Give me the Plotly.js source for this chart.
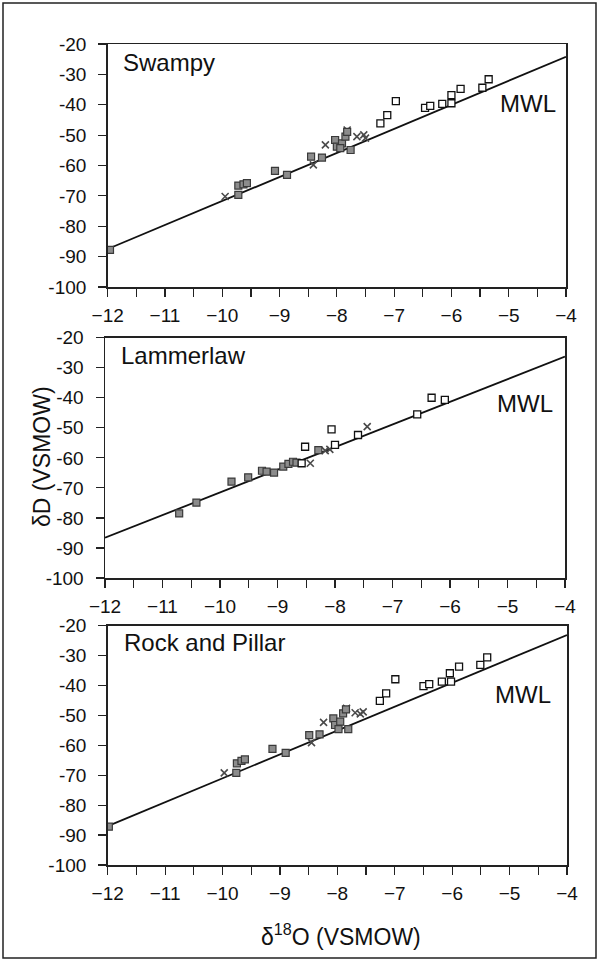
<!DOCTYPE html>
<html>
<head>
<meta charset="utf-8">
<script src="https://cdn.plot.ly/plotly-3.0.1.min.js"></script>
<style>
  html, body { margin: 0; padding: 0; background: #fff; }
  #chart { width: 599px; height: 961px; }
</style>
</head>
<body>
<div id="chart"></div>
<script>
// ---------- data ----------
const panelNames = ["Swampy", "Lammerlaw", "Rock and Pillar"];
const xTickVals = [-12, -11, -10, -9, -8, -7, -6, -5, -4];
const yTickVals = [-20, -30, -40, -50, -60, -70, -80, -90, -100];
const yTickText = ["-20", "-30", "-40", "-50", "-60", "-70", "-80", "-90", "-100"];

// Meteoric water line (end points, per panel)
const mwlX = [-12, -4];
const mwlY1 = [-87.5, -24.2];
const mwlY2 = [-86.6, -26.3];
const mwlY3 = [-87.0, -23.1];

// Swampy
const swGrayX = [-11.96, -9.72, -9.72, -9.63, -9.57, -9.08, -8.87, -8.45, -8.26, -8.03, -8.00, -7.91, -7.85, -7.82, -7.94, -7.76];
const swGrayY = [-87.8, -69.7, -66.6, -66.2, -65.8, -61.8, -63.1, -57.1, -57.4, -51.6, -53.8, -52.7, -50.5, -48.9, -54.3, -54.9];
const swOpenX = [-7.24, -7.12, -6.97, -6.46, -6.37, -6.16, -6.00, -6.00, -5.84, -5.46, -5.35];
const swOpenY = [-46.1, -43.4, -38.8, -41.0, -40.4, -39.7, -39.5, -36.8, -34.8, -34.4, -31.6];
const swCrossX = [-9.95, -8.41, -8.20, -7.82, -7.65, -7.53, -7.50];
const swCrossY = [-70.2, -59.8, -53.2, -48.3, -50.5, -49.9, -51.0];

// Lammerlaw
const laGrayX = [-10.71, -10.41, -9.80, -9.51, -9.27, -9.19, -9.06, -8.90, -8.81, -8.73, -8.67, -8.29];
const laGrayY = [-78.5, -74.9, -67.9, -66.5, -64.3, -64.6, -64.9, -62.9, -62.0, -61.3, -61.6, -57.4];
const laOpenX = [-8.58, -8.52, -8.06, -8.00, -7.60, -6.57, -6.32, -6.09];
const laOpenY = [-61.8, -56.3, -50.5, -55.7, -52.4, -45.5, -40.0, -40.7];
const laCrossX = [-8.43, -8.17, -8.09, -7.44];
const laCrossY = [-61.8, -57.6, -57.2, -49.6];

// Rock and Pillar
const rpGrayX = [-11.98, -9.76, -9.75, -9.67, -9.61, -9.13, -8.90, -8.49, -8.31, -8.07, -8.04, -7.95, -7.90, -7.85, -7.98, -7.81];
const rpGrayY = [-87.2, -69.2, -66.0, -65.2, -64.7, -61.2, -62.5, -56.6, -56.3, -51.0, -53.2, -52.1, -49.3, -48.0, -54.6, -54.6];
const rpOpenX = [-7.26, -7.15, -6.99, -6.50, -6.40, -6.18, -6.02, -6.04, -5.88, -5.51, -5.39];
const rpOpenY = [-45.1, -42.6, -37.9, -40.2, -39.5, -38.7, -38.7, -35.9, -33.7, -33.1, -30.6];
const rpCrossX = [-9.97, -8.45, -8.24, -7.84, -7.69, -7.60, -7.55];
const rpCrossY = [-69.2, -59.1, -52.3, -47.6, -49.1, -49.5, -48.8];

// ---------- build ----------
const panels = [
  {mwlY: mwlY1, gx: swGrayX, gy: swGrayY, ox: swOpenX, oy: swOpenY, cx: swCrossX, cy: swCrossY},
  {mwlY: mwlY2, gx: laGrayX, gy: laGrayY, ox: laOpenX, oy: laOpenY, cx: laCrossX, cy: laCrossY},
  {mwlY: mwlY3, gx: rpGrayX, gy: rpGrayY, ox: rpOpenX, oy: rpOpenY, cx: rpCrossX, cy: rpCrossY}
];

const FONT = "Liberation Sans, Arial, Helvetica, sans-serif";
const traces = [];
panels.forEach((p, i) => {
  const xa = i === 0 ? "x" : "x" + (i + 1);
  const ya = i === 0 ? "y" : "y" + (i + 1);
  traces.push({x: mwlX, y: p.mwlY, xaxis: xa, yaxis: ya, mode: "lines",
    line: {color: "#111", width: 1.8}, hoverinfo: "skip"});
  traces.push({x: p.cx, y: p.cy, xaxis: xa, yaxis: ya, mode: "markers",
    marker: {symbol: "x-thin-open", size: 7, color: "#4a4a4a", line: {color: "#4a4a4a", width: 1.6}}});
  traces.push({x: p.gx, y: p.gy, xaxis: xa, yaxis: ya, mode: "markers",
    marker: {symbol: "square", size: 7, color: "#8c8c8c", line: {color: "#3a3a3a", width: 1.2}}});
  traces.push({x: p.ox, y: p.oy, xaxis: xa, yaxis: ya, mode: "markers",
    marker: {symbol: "square", size: 7, color: "#ffffff", line: {color: "#111", width: 1.3}}});
});

// plot geometry (pixels of the 599x961 page)
const W = 599, H = 961, ML = 105, MR = 32;
const PW = W - ML - MR;
const fx = px => (px - ML) / PW;
const fy = py => 1 - py / H;
const boxes = [
  {l: 107.7, r: 566, t: 44, b: 287},
  {l: 105, r: 565, t: 337.7, b: 578},
  {l: 107.7, r: 567, t: 625.7, b: 865}
];

const layout = {
  width: W, height: H,
  margin: {l: ML, r: MR, t: 0, b: 0, pad: 0},
  paper_bgcolor: "#fff", plot_bgcolor: "#fff",
  showlegend: false,
  font: {family: FONT, color: "#111", size: 19},
  annotations: [],
  shapes: [{type: "rect", xref: "paper", yref: "paper",
    x0: fx(3), x1: fx(596), y0: fy(958), y1: fy(3),
    line: {color: "#222", width: 1.5}, fillcolor: "rgba(0,0,0,0)", layer: "below"}]
};

const labelPos = [
  {px: 121, py: 63, mx: 498, my: 103.5},
  {px: 119.3, py: 355, mx: 495, my: 403},
  {px: 121.7, py: 642, mx: 493, my: 694.7}
];

boxes.forEach((b, i) => {
  const xk = i === 0 ? "xaxis" : "xaxis" + (i + 1);
  const yk = i === 0 ? "yaxis" : "yaxis" + (i + 1);
  const yid = i === 0 ? "y" : "y" + (i + 1);
  const xid = i === 0 ? "x" : "x" + (i + 1);
  layout[xk] = {
    domain: [Math.max(0, fx(b.l)), Math.min(1, fx(b.r))],
    anchor: yid, range: [-12, -4],
    tickvals: xTickVals, ticks: "outside", ticklen: 8, tickwidth: 1.2, tickcolor: "#222",
    minor: {dtick: 0.5, tick0: -12, ticks: "outside", ticklen: 8, tickwidth: 1.2, tickcolor: "#222"},
    ticklabelstandoff: 3,
    showline: true, linecolor: "#222", linewidth: 1.5, mirror: true,
    showgrid: false, zeroline: false,
    tickfont: {size: 19, family: FONT, color: "#111"}
  };
  layout[yk] = {
    domain: [fy(b.b), fy(b.t)],
    anchor: xid, range: [-100, -20],
    tickvals: yTickVals, ticktext: yTickText,
    ticks: "outside", ticklen: 8, tickwidth: 1.2, tickcolor: "#222",
    ticklabelstandoff: 8,
    showline: true, linecolor: "#222", linewidth: 1.5, mirror: true,
    showgrid: false, zeroline: false,
    tickfont: {size: 19, family: FONT, color: "#111"}
  };
  const lp = labelPos[i];
  layout.annotations.push({text: panelNames[i], xref: "paper", yref: "paper",
    x: fx(lp.px), y: fy(lp.py), xanchor: "left", yanchor: "middle", showarrow: false,
    font: {size: 24, family: FONT, color: "#111"}});
  layout.annotations.push({text: "MWL", xref: "paper", yref: "paper",
    x: fx(lp.mx), y: fy(lp.my), xanchor: "left", yanchor: "middle", showarrow: false,
    font: {size: 24, family: FONT, color: "#111"}});
});

// axis titles
layout.annotations.push({text: "δD (VSMOW)", xref: "paper", yref: "paper",
  x: fx(42), y: fy(457), xanchor: "center", yanchor: "middle", textangle: -90,
  showarrow: false, font: {size: 23, family: FONT, color: "#111"}});
layout.annotations.push({text: "δ<sup>18</sup>O (VSMOW)", xref: "paper", yref: "paper",
  x: fx(341), y: fy(935), xanchor: "center", yanchor: "middle",
  showarrow: false, font: {size: 23, family: FONT, color: "#111"}});

Plotly.newPlot("chart", traces, layout, {displayModeBar: false, staticPlot: true});
</script>
</body>
</html>
